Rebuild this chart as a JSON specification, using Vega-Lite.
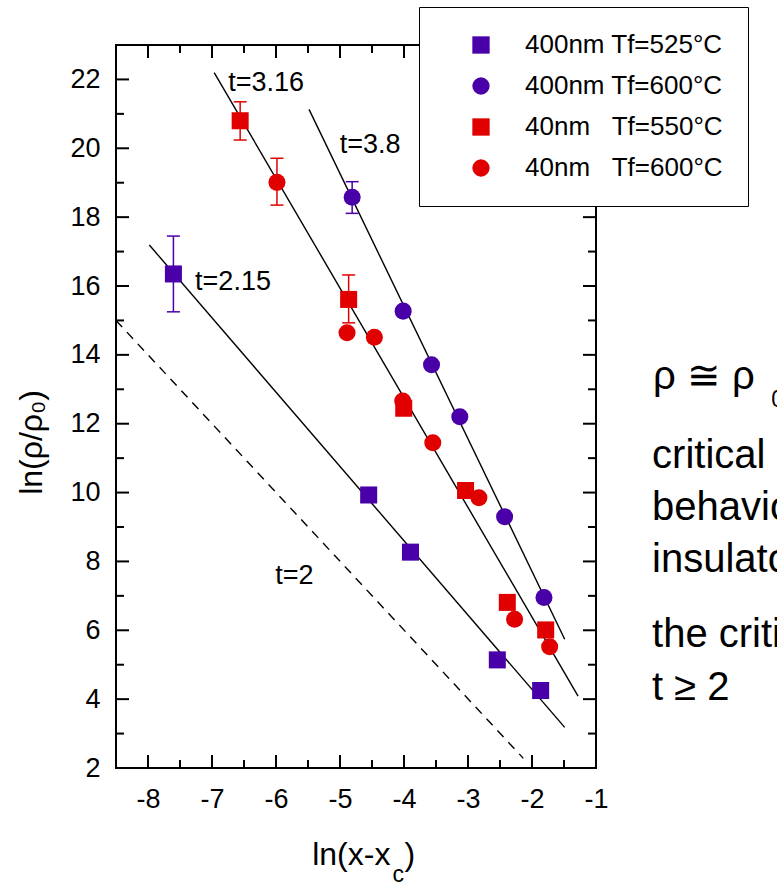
{
  "$schema": "https://vega.github.io/schema/vega-lite/v6.json",
  "width": 480,
  "height": 723,
  "autosize": {"type": "none"},
  "padding": {"left": 116, "top": 45, "right": 181, "bottom": 115},
  "background": "white",
  "config": {
    "view": {"stroke": "black", "strokeWidth": 2},
    "font": "Liberation Sans"
  },
  "datasets": {
    "points": [
      {"series": "400nm Tf=525°C", "x": -7.603, "y": 16.35, "lo": 15.25, "hi": 17.45},
      {"series": "400nm Tf=525°C", "x": -4.552, "y": 9.93},
      {"series": "400nm Tf=525°C", "x": -3.899, "y": 8.27},
      {"series": "400nm Tf=525°C", "x": -2.542, "y": 5.14},
      {"series": "400nm Tf=525°C", "x": -1.865, "y": 4.25},
      {"series": "400nm Tf=600°C", "x": -4.81, "y": 18.58, "lo": 18.11, "hi": 19.03},
      {"series": "400nm Tf=600°C", "x": -4.013, "y": 15.27},
      {"series": "400nm Tf=600°C", "x": -3.57, "y": 13.71},
      {"series": "400nm Tf=600°C", "x": -3.128, "y": 12.2},
      {"series": "400nm Tf=600°C", "x": -2.428, "y": 9.3},
      {"series": "400nm Tf=600°C", "x": -1.813, "y": 6.95},
      {"series": "40nm Tf=550°C", "x": -6.56, "y": 20.8, "lo": 20.24, "hi": 21.35},
      {"series": "40nm Tf=550°C", "x": -4.865, "y": 15.61, "lo": 14.93, "hi": 16.32},
      {"series": "40nm Tf=550°C", "x": -4.004, "y": 12.45},
      {"series": "40nm Tf=550°C", "x": -3.038, "y": 10.06},
      {"series": "40nm Tf=550°C", "x": -2.386, "y": 6.81},
      {"series": "40nm Tf=550°C", "x": -1.786, "y": 6.01},
      {"series": "40nm Tf=600°C", "x": -5.985, "y": 19.01, "lo": 18.35, "hi": 19.71},
      {"series": "40nm Tf=600°C", "x": -4.89, "y": 14.64},
      {"series": "40nm Tf=600°C", "x": -4.463, "y": 14.51},
      {"series": "40nm Tf=600°C", "x": -4.02, "y": 12.66},
      {"series": "40nm Tf=600°C", "x": -3.55, "y": 11.45},
      {"series": "40nm Tf=600°C", "x": -2.83, "y": 9.85},
      {"series": "40nm Tf=600°C", "x": -2.272, "y": 6.32},
      {"series": "40nm Tf=600°C", "x": -1.724, "y": 5.52}
    ],
    "fits": [
      {"fit": "t=3.16", "x": -6.966, "y": 22.2},
      {"fit": "t=3.16", "x": -1.28, "y": 4.09},
      {"fit": "t=3.8", "x": -5.484, "y": 21.13},
      {"fit": "t=3.8", "x": -1.489, "y": 5.74},
      {"fit": "t=2.15", "x": -7.979, "y": 17.19},
      {"fit": "t=2.15", "x": -1.489, "y": 3.18},
      {"fit": "t=2", "x": -8.5, "y": 15.0},
      {"fit": "t=2", "x": -2.135, "y": 2.28}
    ],
    "xticks": [
      {"v": -8, "kind": "major"}, {"v": -7, "kind": "major"}, {"v": -6, "kind": "major"}, {"v": -5, "kind": "major"},
      {"v": -4, "kind": "major"}, {"v": -3, "kind": "major"}, {"v": -2, "kind": "major"},
      {"v": -7.5, "kind": "minor"}, {"v": -6.5, "kind": "minor"}, {"v": -5.5, "kind": "minor"}, {"v": -4.5, "kind": "minor"},
      {"v": -3.5, "kind": "minor"}, {"v": -2.5, "kind": "minor"}, {"v": -1.5, "kind": "minor"}
    ],
    "yticks": [
      {"v": 4, "kind": "major"}, {"v": 6, "kind": "major"}, {"v": 8, "kind": "major"}, {"v": 10, "kind": "major"},
      {"v": 12, "kind": "major"}, {"v": 14, "kind": "major"}, {"v": 16, "kind": "major"}, {"v": 18, "kind": "major"},
      {"v": 20, "kind": "major"}, {"v": 22, "kind": "major"},
      {"v": 3, "kind": "minor"}, {"v": 5, "kind": "minor"}, {"v": 7, "kind": "minor"}, {"v": 9, "kind": "minor"},
      {"v": 11, "kind": "minor"}, {"v": 13, "kind": "minor"}, {"v": 15, "kind": "minor"}, {"v": 17, "kind": "minor"},
      {"v": 19, "kind": "minor"}, {"v": 21, "kind": "minor"}
    ],
    "labels": [
      {"kind": "fit", "text": "t=3.16", "x": -6.747, "y": 21.664},
      {"kind": "fit", "text": "t=3.8", "x": -5.005, "y": 19.872},
      {"kind": "fit", "text": "t=2.15", "x": -7.264, "y": 15.884},
      {"kind": "fit", "text": "t=2", "x": -6.012, "y": 7.336},
      {"kind": "note", "text": "ρ ≅ ρ", "x": -0.108, "y": 13.009},
      {"kind": "note", "text": "critical percolation", "x": -0.124, "y": 10.714},
      {"kind": "note", "text": "behavior near the metal-", "x": -0.124, "y": 9.204},
      {"kind": "note", "text": "insulator transition", "x": -0.124, "y": 7.694},
      {"kind": "note", "text": "the critical exponent", "x": -0.124, "y": 5.515},
      {"kind": "note", "text": "t ≥ 2", "x": -0.124, "y": 3.976},
      {"kind": "sub", "text": "0", "x": 1.739, "y": 12.486},
      {"kind": "sub", "text": "c", "x": -4.181, "y": -1.31},
      {"kind": "xtitle", "text": "ln(x-x", "x": -4.212, "y": -0.816},
      {"kind": "xparen", "text": ")", "x": -3.993, "y": -0.816},
      {"kind": "ytitle", "text": "ln(ρ/ρ₀)", "x": -9.658, "y": 11.455}
    ]
  },
  "resolve": {"scale": {"x": "independent", "y": "independent"}, "axis": {"x": "independent", "y": "independent"}},
  "layer": [
    {
      "data": {"name": "fits"},
      "transform": [{"filter": "datum.fit !== 't=2'"}],
      "mark": {"type": "line", "color": "black", "strokeWidth": 1.4},
      "encoding": {
        "x": {"field": "x", "type": "quantitative", "scale": {"domain": [-8.5, -1], "nice": false, "zero": false},
          "axis": {"orient": "bottom", "zindex": 1, "values": [-8, -7, -6, -5, -4, -3, -2, -1], "ticks": false, "domain": false, "grid": false, "labelPadding": 18, "labelFontSize": 27, "labelFont": "Liberation Sans", "labelColor": "black", "labelFlush": false, "labelOverlap": false, "labelBound": false, "labelExpr": "'' + datum.value", "title": null}},
        "y": {"field": "y", "type": "quantitative", "scale": {"domain": [2, 23], "nice": false, "zero": false},
          "axis": {"orient": "left", "zindex": 1, "values": [2, 4, 6, 8, 10, 12, 14, 16, 18, 20, 22], "ticks": false, "domain": false, "grid": false, "labelPadding": 16, "labelFontSize": 27, "labelFont": "Liberation Sans", "labelColor": "black", "labelFlush": false, "labelOverlap": false, "labelBound": false, "labelExpr": "'' + datum.value", "title": null}},
        "detail": {"field": "fit"}
      }
    },
    {
      "data": {"name": "fits"},
      "transform": [{"filter": "datum.fit === 't=2'"}],
      "mark": {"type": "line", "color": "black", "strokeWidth": 1.4, "strokeDash": [9, 7]},
      "encoding": {
        "x": {"field": "x", "type": "quantitative", "scale": {"domain": [-8.5, -1], "nice": false, "zero": false}, "axis": null},
        "y": {"field": "y", "type": "quantitative", "scale": {"domain": [2, 23], "nice": false, "zero": false}, "axis": null}
      }
    },
    {
      "data": {"name": "xticks"},
      "transform": [{"filter": "datum.kind === 'major'"}],
      "mark": {"type": "tick", "orient": "vertical", "size": 13, "thickness": 2, "color": "black", "opacity": 1, "yOffset": -6.5},
      "encoding": {
        "x": {"field": "v", "type": "quantitative", "scale": {"domain": [-8.5, -1], "nice": false, "zero": false}, "axis": null},
        "y": {"datum": 2, "type": "quantitative", "scale": {"domain": [2, 23], "nice": false, "zero": false}, "axis": null}
      }
    },
    {
      "data": {"name": "xticks"},
      "transform": [{"filter": "datum.kind === 'minor'"}],
      "mark": {"type": "tick", "orient": "vertical", "size": 8, "thickness": 2, "color": "black", "opacity": 1, "yOffset": -4},
      "encoding": {
        "x": {"field": "v", "type": "quantitative", "scale": {"domain": [-8.5, -1], "nice": false, "zero": false}, "axis": null},
        "y": {"datum": 2, "type": "quantitative", "scale": {"domain": [2, 23], "nice": false, "zero": false}, "axis": null}
      }
    },
    {
      "data": {"name": "xticks"},
      "transform": [{"filter": "datum.kind === 'major'"}],
      "mark": {"type": "tick", "orient": "vertical", "size": 13, "thickness": 2, "color": "black", "opacity": 1, "yOffset": 6.5},
      "encoding": {
        "x": {"field": "v", "type": "quantitative", "scale": {"domain": [-8.5, -1], "nice": false, "zero": false}, "axis": null},
        "y": {"datum": 23, "type": "quantitative", "scale": {"domain": [2, 23], "nice": false, "zero": false}, "axis": null}
      }
    },
    {
      "data": {"name": "xticks"},
      "transform": [{"filter": "datum.kind === 'minor'"}],
      "mark": {"type": "tick", "orient": "vertical", "size": 8, "thickness": 2, "color": "black", "opacity": 1, "yOffset": 4},
      "encoding": {
        "x": {"field": "v", "type": "quantitative", "scale": {"domain": [-8.5, -1], "nice": false, "zero": false}, "axis": null},
        "y": {"datum": 23, "type": "quantitative", "scale": {"domain": [2, 23], "nice": false, "zero": false}, "axis": null}
      }
    },
    {
      "data": {"name": "yticks"},
      "transform": [{"filter": "datum.kind === 'major'"}],
      "mark": {"type": "tick", "orient": "horizontal", "size": 13, "thickness": 2, "color": "black", "opacity": 1, "xOffset": 6.5},
      "encoding": {
        "x": {"datum": -8.5, "type": "quantitative", "scale": {"domain": [-8.5, -1], "nice": false, "zero": false}, "axis": null},
        "y": {"field": "v", "type": "quantitative", "scale": {"domain": [2, 23], "nice": false, "zero": false}, "axis": null}
      }
    },
    {
      "data": {"name": "yticks"},
      "transform": [{"filter": "datum.kind === 'minor'"}],
      "mark": {"type": "tick", "orient": "horizontal", "size": 8, "thickness": 2, "color": "black", "opacity": 1, "xOffset": 4},
      "encoding": {
        "x": {"datum": -8.5, "type": "quantitative", "scale": {"domain": [-8.5, -1], "nice": false, "zero": false}, "axis": null},
        "y": {"field": "v", "type": "quantitative", "scale": {"domain": [2, 23], "nice": false, "zero": false}, "axis": null}
      }
    },
    {
      "data": {"name": "yticks"},
      "transform": [{"filter": "datum.kind === 'major'"}],
      "mark": {"type": "tick", "orient": "horizontal", "size": 13, "thickness": 2, "color": "black", "opacity": 1, "xOffset": -6.5},
      "encoding": {
        "x": {"datum": -1, "type": "quantitative", "scale": {"domain": [-8.5, -1], "nice": false, "zero": false}, "axis": null},
        "y": {"field": "v", "type": "quantitative", "scale": {"domain": [2, 23], "nice": false, "zero": false}, "axis": null}
      }
    },
    {
      "data": {"name": "yticks"},
      "transform": [{"filter": "datum.kind === 'minor'"}],
      "mark": {"type": "tick", "orient": "horizontal", "size": 8, "thickness": 2, "color": "black", "opacity": 1, "xOffset": -4},
      "encoding": {
        "x": {"datum": -1, "type": "quantitative", "scale": {"domain": [-8.5, -1], "nice": false, "zero": false}, "axis": null},
        "y": {"field": "v", "type": "quantitative", "scale": {"domain": [2, 23], "nice": false, "zero": false}, "axis": null}
      }
    },
    {
      "data": {"name": "points"},
      "transform": [{"filter": "isValid(datum.lo)"}],
      "mark": {"type": "rule", "strokeWidth": 1.5},
      "encoding": {
        "x": {"field": "x", "type": "quantitative", "scale": {"domain": [-8.5, -1], "nice": false, "zero": false}, "axis": null},
        "y": {"field": "lo", "type": "quantitative", "scale": {"domain": [2, 23], "nice": false, "zero": false}, "axis": null},
        "y2": {"field": "hi"},
        "color": {"condition": {"test": "indexof(datum.series, '400nm') === 0", "value": "#4A00A8"}, "value": "#E00000"}
      }
    },
    {
      "data": {"name": "points"},
      "transform": [{"filter": "isValid(datum.lo)"}],
      "mark": {"type": "tick", "orient": "horizontal", "size": 13, "thickness": 1.5, "opacity": 1},
      "encoding": {
        "x": {"field": "x", "type": "quantitative", "scale": {"domain": [-8.5, -1], "nice": false, "zero": false}, "axis": null},
        "y": {"field": "lo", "type": "quantitative", "scale": {"domain": [2, 23], "nice": false, "zero": false}, "axis": null},
        "color": {"condition": {"test": "indexof(datum.series, '400nm') === 0", "value": "#4A00A8"}, "value": "#E00000"}
      }
    },
    {
      "data": {"name": "points"},
      "transform": [{"filter": "isValid(datum.hi)"}],
      "mark": {"type": "tick", "orient": "horizontal", "size": 13, "thickness": 1.5, "opacity": 1},
      "encoding": {
        "x": {"field": "x", "type": "quantitative", "scale": {"domain": [-8.5, -1], "nice": false, "zero": false}, "axis": null},
        "y": {"field": "hi", "type": "quantitative", "scale": {"domain": [2, 23], "nice": false, "zero": false}, "axis": null},
        "color": {"condition": {"test": "indexof(datum.series, '400nm') === 0", "value": "#4A00A8"}, "value": "#E00000"}
      }
    },
    {
      "data": {"name": "points"},
      "mark": {"type": "point", "filled": true, "opacity": 1, "size": 290},
      "encoding": {
        "x": {"field": "x", "type": "quantitative", "scale": {"domain": [-8.5, -1], "nice": false, "zero": false}, "axis": null},
        "y": {"field": "y", "type": "quantitative", "scale": {"domain": [2, 23], "nice": false, "zero": false}, "axis": null},
        "color": {"field": "series", "type": "nominal",
          "scale": {"domain": ["400nm Tf=525°C", "400nm Tf=600°C", "40nm Tf=550°C", "40nm Tf=600°C"], "range": ["#4A00A8", "#4A00A8", "#E00000", "#E00000"]},
          "legend": {"orient": "none", "legendX": 303, "legendY": -38, "zindex": 2, "title": null, "fillColor": "white", "strokeColor": "black", "padding": 25, "symbolOffset": 24, "labelOffset": 31, "rowPadding": 15, "labelFontSize": 26, "labelFont": "Liberation Sans", "labelColor": "black", "symbolSize": 300, "symbolStrokeWidth": 0, "labelLimit": 500, "labelExpr": "replace(datum.label, '40nm ', '40nm\u00a0\u00a0\u00a0') + '\u00a0\u00a0\u00a0\u00a0\u00a0\u00a0\u00a0\u00a0\u00a0\u00a0\u00a0\u00a0\u00a0'",
            "encode": {"legend": {"update": {"strokeWidth": {"value": 2}}}}}},
        "shape": {"field": "series", "type": "nominal",
          "scale": {"domain": ["400nm Tf=525°C", "400nm Tf=600°C", "40nm Tf=550°C", "40nm Tf=600°C"], "range": ["square", "circle", "square", "circle"]},
          "legend": {"orient": "none", "legendX": 303, "legendY": -38, "zindex": 2, "title": null, "fillColor": "white", "strokeColor": "black", "padding": 25, "symbolOffset": 24, "labelOffset": 31, "rowPadding": 15, "labelFontSize": 26, "labelFont": "Liberation Sans", "labelColor": "black", "symbolSize": 300, "symbolStrokeWidth": 0, "labelLimit": 500, "labelExpr": "replace(datum.label, '40nm ', '40nm\u00a0\u00a0\u00a0') + '\u00a0\u00a0\u00a0\u00a0\u00a0\u00a0\u00a0\u00a0\u00a0\u00a0\u00a0\u00a0\u00a0'",
            "encode": {"legend": {"update": {"strokeWidth": {"value": 2}}}}}}
      }
    },
    {
      "data": {"name": "labels"},
      "transform": [{"filter": "datum.kind === 'fit'"}],
      "mark": {"type": "text", "align": "left", "baseline": "alphabetic", "fontSize": 27, "font": "Liberation Sans", "color": "black"},
      "encoding": {
        "x": {"field": "x", "type": "quantitative", "scale": {"domain": [-8.5, -1], "nice": false, "zero": false}, "axis": null},
        "y": {"field": "y", "type": "quantitative", "scale": {"domain": [2, 23], "nice": false, "zero": false}, "axis": null},
        "text": {"field": "text"}
      }
    },
    {
      "data": {"name": "labels"},
      "transform": [{"filter": "datum.kind === 'note'"}],
      "mark": {"type": "text", "align": "left", "baseline": "alphabetic", "fontSize": 40, "font": "Liberation Sans", "color": "black"},
      "encoding": {
        "x": {"field": "x", "type": "quantitative", "scale": {"domain": [-8.5, -1], "nice": false, "zero": false}, "axis": null},
        "y": {"field": "y", "type": "quantitative", "scale": {"domain": [2, 23], "nice": false, "zero": false}, "axis": null},
        "text": {"field": "text"}
      }
    },
    {
      "data": {"name": "labels"},
      "transform": [{"filter": "datum.kind === 'sub'"}],
      "mark": {"type": "text", "align": "left", "baseline": "alphabetic", "fontSize": 23, "font": "Liberation Sans", "color": "black"},
      "encoding": {
        "x": {"field": "x", "type": "quantitative", "scale": {"domain": [-8.5, -1], "nice": false, "zero": false}, "axis": null},
        "y": {"field": "y", "type": "quantitative", "scale": {"domain": [2, 23], "nice": false, "zero": false}, "axis": null},
        "text": {"field": "text"}
      }
    },
    {
      "data": {"name": "labels"},
      "transform": [{"filter": "datum.kind === 'xtitle'"}],
      "mark": {"type": "text", "align": "right", "baseline": "alphabetic", "fontSize": 32, "font": "Liberation Sans", "color": "black"},
      "encoding": {
        "x": {"field": "x", "type": "quantitative", "scale": {"domain": [-8.5, -1], "nice": false, "zero": false}, "axis": null},
        "y": {"field": "y", "type": "quantitative", "scale": {"domain": [2, 23], "nice": false, "zero": false}, "axis": null},
        "text": {"field": "text"}
      }
    },
    {
      "data": {"name": "labels"},
      "transform": [{"filter": "datum.kind === 'xparen'"}],
      "mark": {"type": "text", "align": "left", "baseline": "alphabetic", "fontSize": 32, "font": "Liberation Sans", "color": "black"},
      "encoding": {
        "x": {"field": "x", "type": "quantitative", "scale": {"domain": [-8.5, -1], "nice": false, "zero": false}, "axis": null},
        "y": {"field": "y", "type": "quantitative", "scale": {"domain": [2, 23], "nice": false, "zero": false}, "axis": null},
        "text": {"field": "text"}
      }
    },
    {
      "data": {"name": "labels"},
      "transform": [{"filter": "datum.kind === 'ytitle'"}],
      "mark": {"type": "text", "align": "center", "baseline": "alphabetic", "angle": 270, "fontSize": 32, "font": "Liberation Sans", "color": "black"},
      "encoding": {
        "x": {"field": "x", "type": "quantitative", "scale": {"domain": [-8.5, -1], "nice": false, "zero": false}, "axis": null},
        "y": {"field": "y", "type": "quantitative", "scale": {"domain": [2, 23], "nice": false, "zero": false}, "axis": null},
        "text": {"field": "text"}
      }
    }
  ]
}
